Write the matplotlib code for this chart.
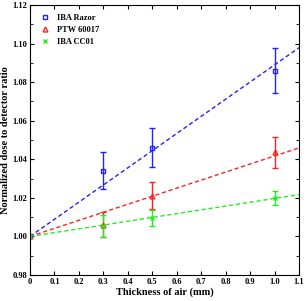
import numpy as np
import matplotlib
matplotlib.use("Agg")
import matplotlib.pyplot as plt
from matplotlib.ticker import MultipleLocator

plt.rcParams['font.family'] = ['Liberation Serif', 'DejaVu Serif']
plt.rcParams['font.weight'] = 'bold'

thickness = [0.0, 0.3, 0.5, 1.0]
razor = [1.000, 1.034, 1.046, 1.086]
razor_err = [0.0, 0.0096, 0.010, 0.0115]
ptw = [1.000, 1.006, 1.021, 1.0436]
ptw_err = [0.0, 0.0065, 0.007, 0.008]
cc01 = [1.000, 1.0055, 1.0095, 1.020]
cc01_err = [0.0, 0.0058, 0.004, 0.0037]

series = [
    ("IBA Razor", razor, razor_err, "#2222ff", "s"),
    ("PTW 60017", ptw, ptw_err, "#ff2222", "^"),
    ("IBA CC01", cc01, cc01_err, "#22ee22", "x"),
]

fig = plt.figure(figsize=(3.07, 3.01), dpi=100)
ax = fig.add_axes([30 / 307, 26 / 301, 269 / 307, 270 / 301])

x = np.array(thickness)
xfit = np.array([0.0, 1.1])
for name, vals, errs, col, mk in series:
    y = np.array(vals)
    # linear fit forced through (0, 1)
    slope = np.sum(x * (y - 1)) / np.sum(x * x)
    ax.plot(xfit, 1 + slope * xfit, ls=(0, (3, 2)), color=col, lw=1.0)
    ax.errorbar(x, y, yerr=errs, fmt=mk, color=col, mfc='none', ms=3.5,
                mew=1.0, capsize=2.5, elinewidth=1.0, capthick=1.0, label=name)

ax.set_xlim(0, 1.1)
ax.set_ylim(0.98, 1.12)
ax.yaxis.set_major_locator(MultipleLocator(0.02))
ax.yaxis.set_minor_locator(MultipleLocator(0.01))
ax.set_xticks(np.arange(0, 1.11, 0.1))
ax.set_xticklabels(['0', '0.1', '0.2', '0.3', '0.4', '0.5', '0.6', '0.7', '0.8', '0.9', '1.0', '1.1'])
ax.tick_params(which='both', direction='in', top=True, right=True, labelsize=6, pad=2)
ax.tick_params(which='major', length=3)
ax.tick_params(which='minor', length=2)
ax.set_xlabel("Thickness of air (mm)", fontsize=7.5, fontweight='bold', labelpad=1)
ax.set_ylabel("Normalized dose to detector ratio", fontsize=7.5, fontweight='bold', labelpad=2)

handles, labels = ax.get_legend_handles_labels()
handles = [h[0] for h in handles]
ax.legend(handles, labels, loc='upper left', frameon=False, fontsize=6,
          handletextpad=0.6, borderaxespad=0.5, labelspacing=0.45, handlelength=1.5,
          borderpad=0.6)

fig.savefig("out.png", dpi=100)
